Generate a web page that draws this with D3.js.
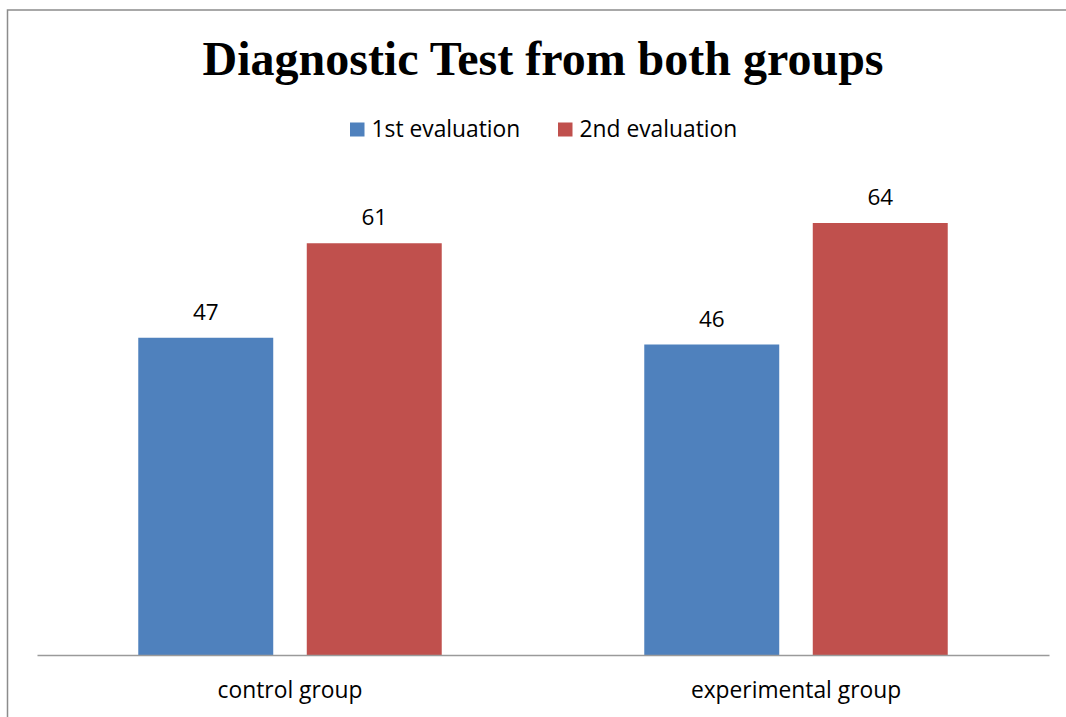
<!DOCTYPE html>
<html>
<head>
<meta charset="utf-8">
<script src="https://cdn.jsdelivr.net/npm/d3@7"></script>
<style>
  body { margin: 0; background: #fff; }
  svg { display: block; }
  .title { font-family: "Liberation Serif", "Times New Roman", serif; font-weight: bold; font-size: 48px; }
  .lbl { font-family: "Open Sans", sans-serif; fill: #000; }
</style>
</head>
<body>
<div class="content"></div>
<script>
// данные
var categories = ['control group', 'experimental group'];
var series = ['1st evaluation', '2nd evaluation'];
var firstEval = [47, 46];
var secondEval = [61, 64];
var colors = ['#4F81BD', '#C0504D'];

var w = 1066,
    h = 717;

var svg = d3.select('.content').append('svg')
    .attr('width', w)
    .attr('height', h);

// рамка вокруг диаграммы (правый и нижний края за пределами картинки)
svg.append('rect')
    .attr('x', 7.5).attr('y', 10)
    .attr('width', 1100).attr('height', 800)
    .attr('fill', 'none')
    .attr('stroke', '#8c8c8c')
    .attr('stroke-width', 1.5);

// заголовок
svg.append('text')
    .attr('class', 'title')
    .attr('x', 543).attr('y', 75)
    .attr('text-anchor', 'middle')
    .text('Diagnostic Test from both groups');

// шкалы
var x0 = d3.scaleBand()
    .domain(categories)
    .range([37, 1049]);

var x1 = d3.scaleBand()
    .domain(series)
    .range([0, x0.bandwidth()])
    .paddingInner(0.199)
    .paddingOuter(0.601);

var y = d3.scaleLinear()
    .domain([0, 70])
    .range([655, 182.5]);

var rows = categories.map(function(c, i) {
    return { cat: c, values: [firstEval[i], secondEval[i]] };
});

// столбики
var group = svg.selectAll('g.cat')
    .data(rows)
    .enter()
    .append('g')
    .attr('class', 'cat')
    .attr('transform', function(d) { return 'translate(' + x0(d.cat) + ',0)'; });

var bar = group.selectAll('g.bar')
    .data(function(d) { return d.values.map(function(v, j) { return { s: series[j], v: v, j: j }; }); })
    .enter()
    .append('g')
    .attr('class', 'bar');

bar.append('rect')
    .attr('x', function(d) { return x1(d.s); })
    .attr('y', function(d) { return y(d.v); })
    .attr('width', x1.bandwidth())
    .attr('height', function(d) { return y(0) - y(d.v); })
    .attr('fill', function(d) { return colors[d.j]; });

// подписи значений
bar.append('text')
    .attr('class', 'lbl')
    .attr('x', function(d) { return x1(d.s) + x1.bandwidth() / 2; })
    .attr('y', function(d) { return y(d.v) - 18; })
    .attr('text-anchor', 'middle')
    .style('font-size', '22.5px')
    .text(function(d) { return d.v; });

// ось X
var xAxis = svg.append('g')
    .attr('transform', 'translate(0,' + y(0) + ')')
    .call(d3.axisBottom(x0).tickSize(0).tickPadding(0));
xAxis.select('.domain')
    .attr('stroke', '#9a9a9a')
    .attr('stroke-width', 1.6);
xAxis.selectAll('.tick text')
    .attr('class', 'lbl')
    .attr('y', 43)
    .attr('dy', 0)
    .style('font-size', '22.8px');

// легенда
var legendX = [350, 558];
var legend = svg.selectAll('g.legend')
    .data(series)
    .enter()
    .append('g')
    .attr('class', 'legend')
    .attr('transform', function(d, i) { return 'translate(' + legendX[i] + ',0)'; });

legend.append('rect')
    .attr('x', 0).attr('y', 122.5)
    .attr('width', 14.5).attr('height', 14)
    .attr('fill', function(d, i) { return colors[i]; });

legend.append('text')
    .attr('class', 'lbl')
    .attr('x', 21.5).attr('y', 137)
    .style('font-size', '22.8px')
    .text(function(d) { return d; });
</script>
</body>
</html>
